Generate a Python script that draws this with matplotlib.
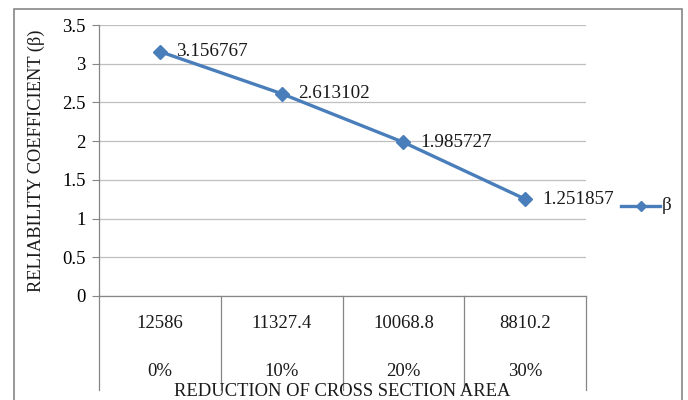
import matplotlib
matplotlib.use("Agg")
import matplotlib.pyplot as plt
from matplotlib.lines import Line2D
from matplotlib.patches import Rectangle

# Data
areas = ["12586", "11327.4", "10068.8", "8810.2"]
reductions = ["0%", "10%", "20%", "30%"]
beta = [3.156767, 2.613102, 1.985727, 1.251857]
y_ticks = [0, 0.5, 1, 1.5, 2, 2.5, 3, 3.5]
y_tick_labels = ["0", "0.5", "1", "1.5", "2", "2.5", "3", "3.5"]

plt.rcParams["font.family"] = ["Liberation Serif", "DejaVu Serif"]

W, H = 688, 400
fig = plt.figure(figsize=(W / 100, H / 100), dpi=100)

# outer chart frame
fig.patches.append(Rectangle((14 / W, -0.05), (682 - 14) / W, 1.05 - 9 / H,
                             transform=fig.transFigure, fill=False,
                             edgecolor="#868686", lw=1.2))

left, right, top, bottom = 99, 586, 25, 296
ax = fig.add_axes([left / W, 1 - bottom / H, (right - left) / W, (bottom - top) / H])

n = len(beta)
xs = [i + 0.5 for i in range(n)]
ax.set_xlim(0, n)
ax.set_ylim(0, 3.5)

ax.set_yticks(y_ticks)
ax.set_yticklabels(y_tick_labels, fontsize=13.5)
ax.tick_params(axis="y", length=5, width=0.8, color="#868686", pad=4.5)
ax.set_xticks([])
ax.yaxis.grid(True, color="#bfbfbf", lw=0.9)
ax.set_axisbelow(True)
for s in ["top", "right"]:
    ax.spines[s].set_visible(False)
for s in ["left", "bottom"]:
    ax.spines[s].set_color("#868686")
    ax.spines[s].set_linewidth(0.9)

# category separators extending below the axis
ext = -94 / (bottom - top)
for i in range(n + 1):
    ax.add_line(Line2D([i, i], [0, ext], transform=ax.get_xaxis_transform(),
                       color="#868686", lw=0.9, clip_on=False))

trans = ax.get_xaxis_transform()
for x, a, r in zip(xs, areas, reductions):
    ax.text(x, -27 / (bottom - top), a, transform=trans, ha="center", va="center",
            fontsize=13.5, color="#1a1a1a")
    ax.text(x, -75 / (bottom - top), r, transform=trans, ha="center", va="center",
            fontsize=13.5, color="#1a1a1a")

ax.plot(xs, beta, color="#4a7ebb", lw=2.4, marker="D", ms=6.8,
        markeredgecolor="#4a7ebb", label="β", clip_on=False)

for x, v in zip(xs, beta):
    ax.annotate(f"{v:.6f}", (x, v), xytext=(12, 0), textcoords="offset points",
                ha="left", va="center", fontsize=13.8, color="#1a1a1a")

ax.set_ylabel("RELIABILITY COEFFICIENT (β)", fontsize=13.2, color="#1a1a1a")
ax.yaxis.set_label_coords((45 - left) / (right - left), 0.5)

fig.text((left + right) / 2 / W, 1 - 392 / H, "REDUCTION OF CROSS SECTION AREA",
         ha="center", va="center", fontsize=13.4, color="#1a1a1a")

# legend entry
fig.add_artist(Line2D([621 / W, 640.5 / W, 660 / W], [1 - 205.5 / H] * 3,
                      color="#4a7ebb", lw=2.4, marker="D", ms=5.5, markevery=[1],
                      transform=fig.transFigure))
fig.text(662 / W, 1 - 206 / H, "β", ha="left", va="center", fontsize=13.8,
         color="#1a1a1a")

fig.savefig("out.png", dpi=100)
